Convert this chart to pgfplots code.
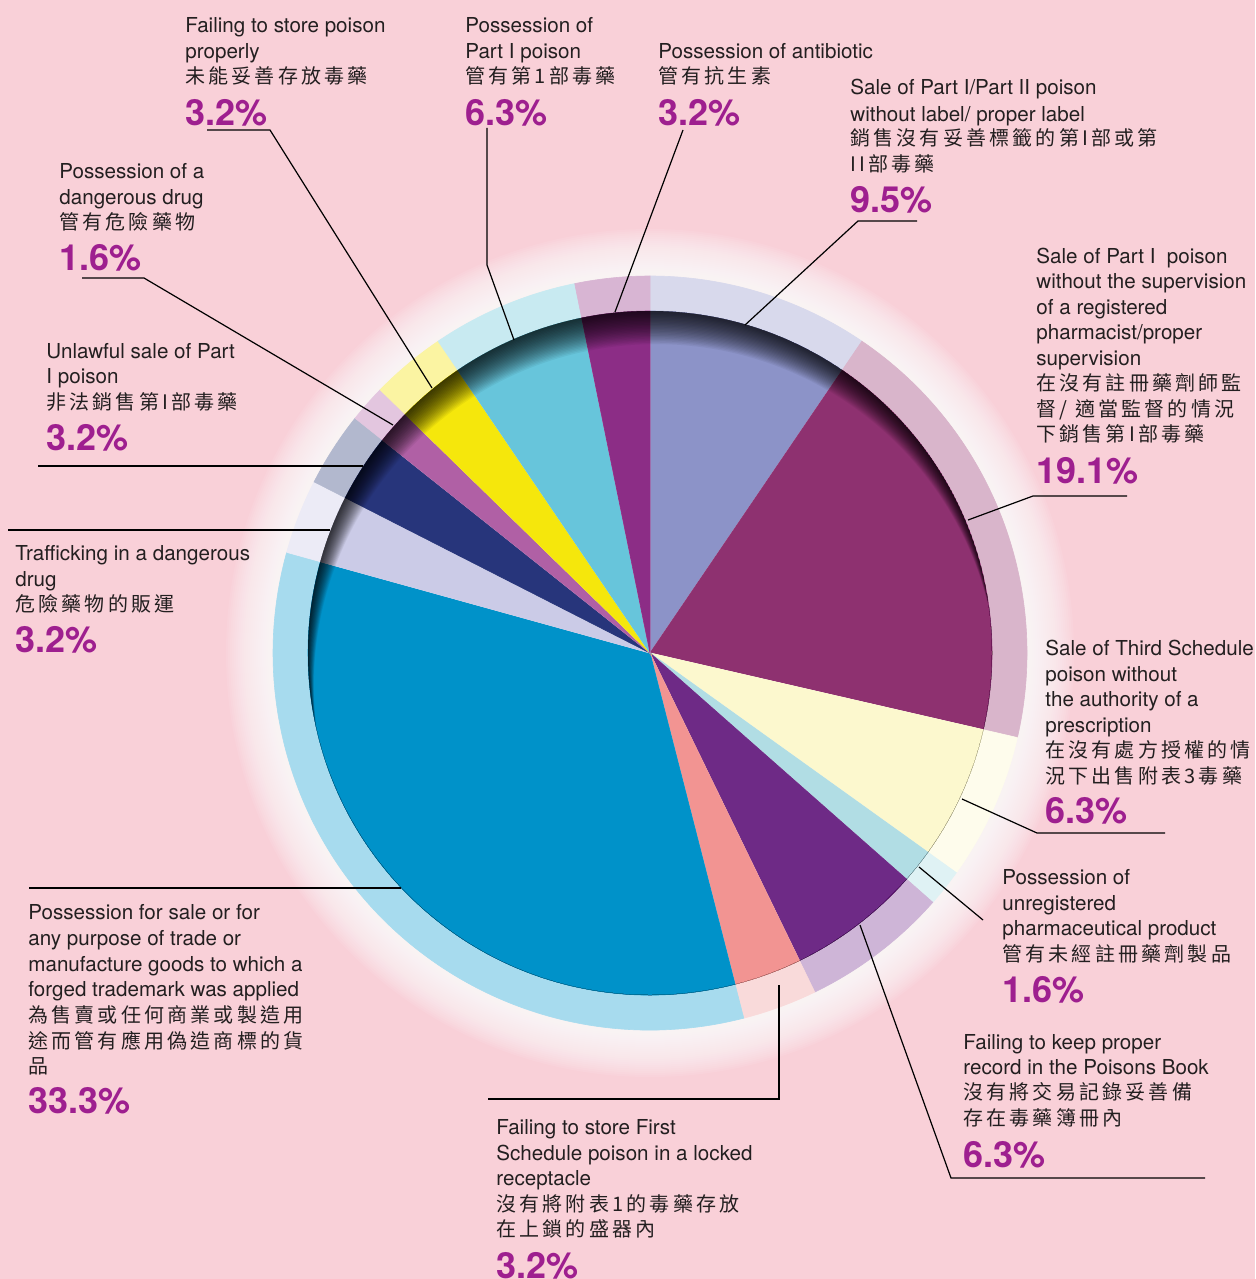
\documentclass[border=0pt]{standalone}
\usepackage{pgfplots}
\pgfplotsset{compat=1.18}
\usepackage{fontspec}
\setmainfont{TeX Gyre Heros}
\newfontfamily\cjk{Noto Sans CJK TC}[LetterSpace=16]
\definecolor{bg}{HTML}{F9D0D8}
\definecolor{txt}{HTML}{231F20}
\definecolor{pct}{HTML}{9E1F8F}
% slice colours
\definecolor{cLav}{HTML}{8C93C8}  \definecolor{rLav}{HTML}{D8D9EC}
\definecolor{cMar}{HTML}{8E3170}  \definecolor{rMar}{HTML}{D9B5CB}
\definecolor{cLY}{HTML}{FCF8CE}   \definecolor{rLY}{HTML}{FEFCEC}
\definecolor{cTeal}{HTML}{B1DDE4} \definecolor{rTeal}{HTML}{DFF2F4}
\definecolor{cPur}{HTML}{6E2A86}  \definecolor{rPur}{HTML}{CEB5D7}
\definecolor{cSal}{HTML}{F29492}  \definecolor{rSal}{HTML}{F9DADA}
\definecolor{cBlue}{HTML}{0092C9} \definecolor{rBlue}{HTML}{A7DBEE}
\definecolor{cLL}{HTML}{CBCBE7}   \definecolor{rLL}{HTML}{ECEBF6}
\definecolor{cNavy}{HTML}{27357B} \definecolor{rNavy}{HTML}{B2B8CE}
\definecolor{cOrc}{HTML}{B060A5}  \definecolor{rOrc}{HTML}{E3C6DF}
\definecolor{cYel}{HTML}{F5E70C}  \definecolor{rYel}{HTML}{FBF4A2}
\definecolor{cCyan}{HTML}{67C5DB} \definecolor{rCyan}{HTML}{C8EAF1}
\definecolor{cPur2}{HTML}{8C2D86} \definecolor{rPur2}{HTML}{D8B5D3}
% start %, end %, fill colour, ring colour
\newcommand{\pieslice}[4]{%
  \filldraw[fill=#4, draw=#4, line width=0.3pt] (axis cs:650,653) -- ++({90-3.6*#1}:188.5pt)
     arc[start angle={90-3.6*#1}, end angle={90-3.6*#2}, radius=188.5pt] -- cycle;
  \filldraw[fill=#3, draw=#3, line width=0.3pt] (axis cs:650,653) -- ++({90-3.6*#1}:171pt)
     arc[start angle={90-3.6*#1}, end angle={90-3.6*#2}, radius=171pt] -- cycle;
}
\newcommand{\entxt}{\fontsize{10.3pt}{12pt}\selectfont}
\newcommand{\zhtxt}{\cjk\fontsize{10pt}{12pt}\selectfont}
\newcommand{\pcttxt}{\fontsize{18pt}{20pt}\selectfont\bfseries}
\newcommand{\tl}[3]{\node[anchor=base west, inner sep=0pt, font=\entxt, text=txt] at (axis cs:#1,#2) {#3};}
\newcommand{\tc}[3]{\node[anchor=base west, inner sep=0pt, font=\zhtxt, text=txt] at (axis cs:#1,#2) {#3};}
\newcommand{\tp}[3]{\node[anchor=base west, inner sep=0pt, font=\pcttxt, text=pct] at (axis cs:#1,#2) {#3};}
\begin{document}
\begin{tikzpicture}
\begin{axis}[at={(0,0)}, anchor=south west, width=627.5pt, height=639.5pt, scale only axis,
  xmin=0, xmax=1255, ymin=0, ymax=1279, y dir=reverse, hide axis, clip=false]
\fill[bg] (axis cs:0,0) rectangle (axis cs:1255,1279);
% white glow round the ring
\pgfplotsextra{
  \foreach \r in {212,211,...,189} {
    \fill[white, opacity=0.08] (axis cs:650,653) circle[radius=\r pt];
  }
}
% shares (%): 9.5, 19.1, 6.3, 1.6, 6.3, 3.2, 33.3, 3.2, 3.2, 1.6, 3.2, 6.3, 3.2
\pieslice{0}{9.5}{cLav}{rLav}
\pieslice{9.5}{28.6}{cMar}{rMar}
\pieslice{28.6}{34.9}{cLY}{rLY}
\pieslice{34.9}{36.5}{cTeal}{rTeal}
\pieslice{36.5}{42.8}{cPur}{rPur}
\pieslice{42.8}{46.0}{cSal}{rSal}
\pieslice{46.0}{79.3}{cBlue}{rBlue}
\pieslice{79.3}{82.5}{cLL}{rLL}
\pieslice{82.5}{85.7}{cNavy}{rNavy}
\pieslice{85.7}{87.3}{cOrc}{rOrc}
\pieslice{87.3}{90.5}{cYel}{rYel}
\pieslice{90.5}{96.8}{cCyan}{rCyan}
\pieslice{96.8}{100}{cPur2}{rPur2}
% inner shadow along the upper-left edge
\pgfplotsextra{
  \begin{scope}
  \clip (axis cs:650,653) circle[radius=171pt];
  \foreach \d in {1.4,2.8,...,34} {
    \fill[black, opacity=0.05, even odd rule] (axis cs:650,653) circle[radius=171pt]
      ([xshift={0.087*\d pt}, yshift={-0.4925*\d pt}]axis cs:650,653) circle[radius=171pt];
  }
  \end{scope}
}
% leader lines
\begin{scope}[line width=0.6pt, black]
\draw (axis cs:207,130) -- (axis cs:270,130) -- (axis cs:432,388);
\draw (axis cs:487,128) -- (axis cs:487,265) -- (axis cs:514,340);
\draw (axis cs:683,130) -- (axis cs:615,312);
\draw (axis cs:917,221) -- (axis cs:858,221) -- (axis cs:745,325);
\draw (axis cs:1127,496) -- (axis cs:1033,496) -- (axis cs:968,520);
\draw (axis cs:962,799) -- (axis cs:1037,833) -- (axis cs:1165,833);
\draw (axis cs:919,867) -- (axis cs:983,920);
\draw (axis cs:860,925) -- (axis cs:951,1178) -- (axis cs:1205,1178);
\draw (axis cs:779,985) -- (axis cs:779,1099) -- (axis cs:488,1099);
\draw (axis cs:29,888) -- (axis cs:401,888);
\draw (axis cs:8,530) -- (axis cs:330,530);
\draw (axis cs:38,466) -- (axis cs:363,466);
\draw (axis cs:82,278) -- (axis cs:144,278) -- (axis cs:393,425);
\end{scope}
% labels
\tl{185}{33}{Failing to store poison}
\tl{185}{59}{properly}
\tc{185}{84}{未能妥善存放毒藥}
\tp{185}{126}{3.2\%}
\tl{465}{33}{Possession of}
\tl{465}{59}{Part I poison}
\tc{465}{84}{管有第1部毒藥}
\tp{465}{126}{6.3\%}
\tl{658}{59}{Possession of antibiotic}
\tc{658}{84}{管有抗生素}
\tp{658}{126}{3.2\%}
\tl{850}{95}{Sale of Part I/Part II poison}
\tl{850}{121}{without label/ proper label}
\tc{850}{146}{銷售沒有妥善標籤的第I部或第}
\tc{850}{171}{II部毒藥}
\tp{850}{212}{9.5\%}
\tl{1036}{263}{Sale of Part I~ poison}
\tl{1036}{288}{without the supervision}
\tl{1036}{314}{of a registered}
\tl{1036}{339}{pharmacist/proper}
\tl{1036}{365}{supervision}
\tc{1036}{390}{在沒有註冊藥劑師監}
\tc{1036}{416}{督/ 適當監督的情況}
\tc{1036}{441}{下銷售第I部毒藥}
\tp{1036}{483}{19.1\%}
\tl{1045}{655}{Sale of Third Schedule}
\tl{1045}{681}{poison without}
\tl{1045}{706}{the authority of a}
\tl{1045}{732}{prescription}
\tc{1045}{757}{在沒有處方授權的情}
\tc{1045}{783}{況下出售附表3毒藥}
\tp{1045}{823}{6.3\%}
\tl{1002}{884}{Possession of}
\tl{1002}{910}{unregistered}
\tl{1002}{935}{pharmaceutical product}
\tc{1002}{961}{管有未經註冊藥劑製品}
\tp{1002}{1002}{1.6\%}
\tl{963}{1049}{Failing to keep proper}
\tl{963}{1074}{record in the Poisons Book}
\tc{963}{1099}{沒有將交易記錄妥善備}
\tc{963}{1125}{存在毒藥簿冊內}
\tp{963}{1167}{6.3\%}
\tl{496}{1134}{Failing to store First}
\tl{496}{1160}{Schedule poison in a locked}
\tl{496}{1185}{receptacle}
\tc{496}{1211}{沒有將附表1的毒藥存放}
\tc{496}{1236}{在上鎖的盛器內}
\tp{496}{1278}{3.2\%}
\tl{28}{919}{Possession for sale or for}
\tl{28}{945}{any purpose of trade or}
\tl{28}{971}{manufacture goods to which a}
\tl{28}{996}{forged trademark was applied}
\tc{28}{1022}{為售賣或任何商業或製造用}
\tc{28}{1048}{途而管有應用偽造商標的貨}
\tc{28}{1073}{品}
\tp{28}{1113}{33.3\%}
\tl{15}{560}{Trafficking in a dangerous}
\tl{15}{586}{drug}
\tc{15}{611}{危險藥物的販運}
\tp{15}{652}{3.2\%}
\tl{46}{358}{Unlawful sale of Part}
\tl{46}{383}{I poison}
\tc{46}{409}{非法銷售第I部毒藥}
\tp{46}{450}{3.2\%}
\tl{59}{178}{Possession of a}
\tl{59}{204}{dangerous drug}
\tc{59}{229}{管有危險藥物}
\tp{59}{270}{1.6\%}
\end{axis}
\pgfresetboundingbox
\useasboundingbox (0,0) rectangle (627.5pt,639.5pt);
\end{tikzpicture}
\end{document}
